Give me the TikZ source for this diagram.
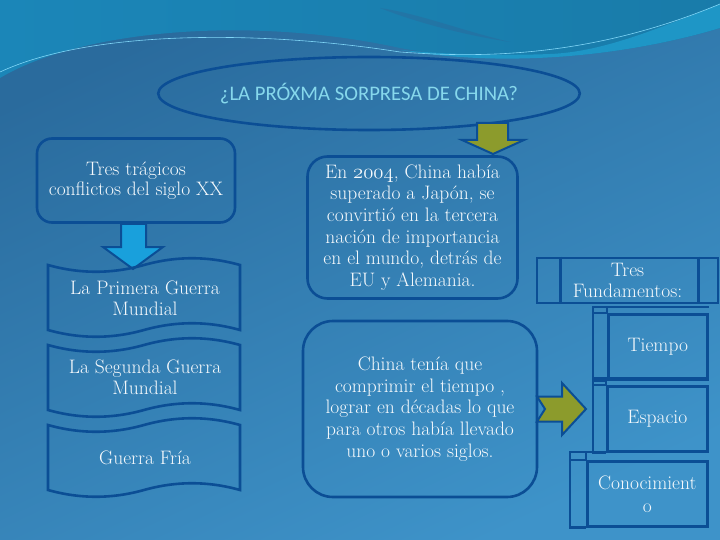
\documentclass[tikz,border=0pt]{standalone}
\usepackage{fontspec}
\newfontfamily\titlefont{Carlito}
\usetikzlibrary{positioning}
\usetikzlibrary{shapes.geometric}

\definecolor{bgteal}{HTML}{1B86B8}
\definecolor{bgmid}{HTML}{2A6B9D}
\definecolor{bglow}{HTML}{3E93C9}
\definecolor{bgband}{HTML}{1E96C6}
\definecolor{edge}{HTML}{0B4E95}
\definecolor{txt}{HTML}{F5F9FC}
\definecolor{ttl}{HTML}{86D8EC}
\definecolor{olive}{HTML}{8C9B2C}
\definecolor{sky}{HTML}{19A0DC}

\newcommand{\osnum}[1]{{\usefont{OML}{cmm}{m}{it}#1}}

\begin{document}
\begin{tikzpicture}[x=1pt,y=-1pt]

 \tikzset{
 	frame/.style={draw=edge, line width=2.6pt},
 	roundbox/.style={frame,
 		rounded corners=#1,
 		align=center,
 		text=txt,
 		font=\fontsize{19.5}{21.6}\selectfont,
 		inner sep=0pt
 	},
 	roundbox/.default=16pt,
 	wavetext/.style={align=center, text=txt, font=\fontsize{19.5}{21}\selectfont},
 	storage/.style={frame,
 		anchor=north west,
 		inner sep=0pt,
 		minimum height=65pt,
 		text=txt,
 		font=\fontsize{19.5}{23}\selectfont,
 		align=center
 	},
 	blockarrow/.style={draw=edge, line width=2pt, line join=miter}
 }

 % background
 \useasboundingbox (0,0) rectangle (720,540);
 \shade[top color=bgmid, bottom color=bglow, shading angle=25] (0,0) rectangle (720,540);
 \shade[left color=bgteal, right color=bgteal!92!black] (0,0) -- (720,0) -- (720,28)
 	.. controls (640,52) and (520,70) .. (400,48)
 	.. controls (250,15) and (80,30) .. (0,78) -- cycle;
 \fill[bgband] (720,4) .. controls (650,32) and (600,52) .. (550,54)
 	.. controls (500,56) and (440,54) .. (400,50)
 	.. controls (520,70) and (640,52) .. (720,28) -- cycle;
 \draw[cyan!50!white, line width=0.6pt] (0,72) .. controls (90,30) and (260,30) .. (400,52)
 	.. controls (480,58) and (590,58) .. (720,4);
 \fill[bgmid, opacity=0.5] (380,8) .. controls (420,14) and (460,30) .. (510,42)
 	.. controls (470,36) and (420,24) .. (380,8);

 % title
 \node[ellipse, frame, minimum width=362pt, minimum height=73pt, inner sep=0pt,
 	text=ttl, font=\titlefont\fontsize{20.7}{22}\selectfont] (title) at (369,93.5)
 	{\raisebox{-3pt}{¿LA PRÓXMA SORPRESA DE CHINA?}};

 % left column
 \node[roundbox=15pt, minimum width=198pt, minimum height=84pt,
 	font=\fontsize{19.5}{20}\selectfont] (tragic) at (136,180.5)
 	{Tres trágicos\\conflictos del siglo XX};

 \draw[blockarrow, fill=sky, shift={(133,269)}]
 	(0,0) -- (-30,-22) -- (-12,-22) -- (-12,-45) -- (13,-45) -- (13,-22) -- (30,-22) -- cycle;

 \foreach \t/\b in {265/330, 345/410, 425/490}
 	\draw[frame] (48,\t) .. controls (80,\t+9) and (112,\t+9) .. (144,\t)
 		.. controls (176,\t-9) and (208,\t-9) .. (240,\t) -- (240,\b)
 		.. controls (208,\b-9) and (176,\b-9) .. (144,\b)
 		.. controls (112,\b+9) and (80,\b+9) .. (48,\b) -- cycle;

 \node[wavetext] (war1) at (145,298) {La Primera Guerra\\Mundial};
 \node[wavetext] (war2) at (145,377.5) {La Segunda Guerra\\Mundial};
 \node[wavetext] (war3) at (145,458) {Guerra Fría};

 % middle column
 \draw[blockarrow, fill=olive, shift={(493,154)}]
 	(0,0) -- (-31,-14) -- (-16,-14) -- (-16,-31) -- (15,-31) -- (15,-14) -- (31,-14) -- cycle;

 \node[roundbox=20pt, minimum width=210pt, minimum height=142pt] (rank) at (412.5,227.5)
 	{En \osnum{2004}, China había\\superado a Japón, se\\convirtió en la tercera\\nación de importancia\\en el mundo, detrás de\\EU y Alemania.};

 \node[roundbox=30pt, minimum width=234pt, minimum height=176pt] (compress) at (420,409)
 	{China tenía que\\comprimir el tiempo ,\\lograr en décadas lo que\\para otros había llevado\\uno o varios siglos.};

 \draw[blockarrow, fill=olive, shift={(586,409)}]
 	(0,0) -- (-24,-26) -- (-24,-12.5) -- (-49,-12.5) -- (-41,0) -- (-49,12.5)
 	-- (-24,12.5) -- (-24,26) -- cycle;

 % right column
 \node[frame, minimum width=181pt, minimum height=45pt, inner sep=0pt, align=center,
 	text=txt, font=\fontsize{19.5}{21}\selectfont] (fund) at (627.5,280.5)
 	{Tres\\Fundamentos:};
 \draw[frame] ([xshift=25pt]fund.north west) -- ([xshift=25pt]fund.south west);
 \draw[frame] ([xshift=-21pt]fund.north east) -- ([xshift=-21pt]fund.south east);

 \node[storage, minimum width=99pt] (tiempo) at (607,313) {Tiempo};
 \node[storage, minimum width=100pt] (espacio) at (606,385) {Espacio};
 \node[storage, minimum width=120pt] (conoc) at (586,460) {Conocimient\\o};

 \foreach \n/\dx/\dy in {tiempo/14/6, espacio/13/7, conoc/16/8} {
 	\draw[frame] ([yshift=\dy pt]\n.north east) -| ([xshift=-\dx pt]\n.south west) -- (\n.south west);
 	\draw[frame] ([yshift=\dy pt]\n.north west) -- (\n.north west) -- ++(-\dx,0);
 }

\end{tikzpicture}
\end{document}
